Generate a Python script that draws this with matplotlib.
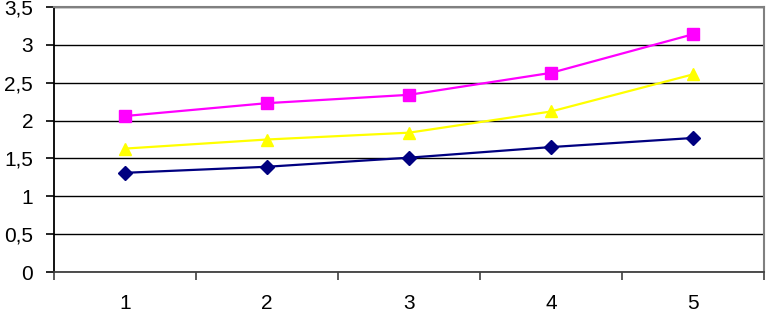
import numpy as np
import matplotlib.pyplot as plt
from matplotlib.ticker import FuncFormatter, FixedLocator

plt.rcParams['font.family'] = ['Liberation Sans', 'DejaVu Sans']

categories = ['1', '2', '3', '4', '5']
pink_vals = [2.06, 2.23, 2.34, 2.63, 3.14]
yellow_vals = [1.63, 1.75, 1.84, 2.12, 2.61]
navy_vals = [1.31, 1.39, 1.51, 1.65, 1.77]

fig = plt.figure(figsize=(7.66, 3.14), dpi=100)
ax = fig.add_axes([54 / 766, 42 / 314, 710 / 766, 265 / 314])

x = np.arange(len(categories))

#series, drawn like the old spreadsheet chart
ax.plot(x, navy_vals, color='#000080', lw=1.6, marker='D', ms=7, zorder=3)
ax.plot(x, yellow_vals, color='#FFFF00', lw=1.6, marker='^', ms=9, zorder=3)
ax.plot(x, pink_vals, color='#FF00FF', lw=1.6, marker='s', ms=9, zorder=3)

ax.set_xlim(-0.5, len(categories) - 0.5)
ax.set_ylim(0, 3.5)
ax.set_yticks(np.arange(0, 3.51, 0.5))
ax.yaxis.set_major_formatter(FuncFormatter(lambda v, p: ('%g' % v).replace('.', ',')))

#category labels at centres, tick marks between them
ax.set_xticks(x)
ax.set_xticklabels(categories)
ax.xaxis.set_minor_locator(FixedLocator(np.arange(-0.5, len(categories), 1.0)))
ax.tick_params(axis='x', which='major', length=0, pad=16, labelsize=15)
ax.tick_params(axis='x', which='minor', length=6, width=1.2, color='#404040', direction='out')
ax.tick_params(axis='y', length=6, width=1.2, pad=9, labelsize=15, direction='out')

ax.grid(axis='y', color='black', lw=1)
ax.set_axisbelow(True)

ax.spines['left'].set_color('black')
ax.spines['left'].set_linewidth(1.3)
ax.spines['bottom'].set_color('#404040')
ax.spines['bottom'].set_linewidth(1.3)
ax.spines['top'].set_color('#808080')
ax.spines['top'].set_linewidth(1.5)
ax.spines['right'].set_color('#808080')
ax.spines['right'].set_linewidth(1.5)

plt.savefig('out.png', dpi=100)
